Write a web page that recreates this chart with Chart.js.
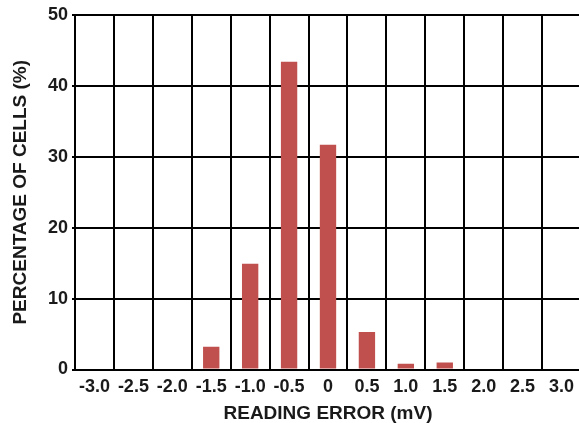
<!DOCTYPE html>
<html>
<head>
<meta charset="utf-8">
<script src="https://cdn.jsdelivr.net/npm/chart.js@4"></script>
<style>
  html, body { margin: 0; padding: 0; background: #fff; overflow: hidden; }
  #wrap { width: 579px; height: 423px; overflow: hidden; }
</style>
</head>
<body>
<div id="wrap"><canvas id="myChart" width="582" height="430"></canvas></div>
<script>
// categories on the x axis (reading error, mV)
const errorLabels = ['-3.0', '-2.5', '-2.0', '-1.5', '-1.0', '-0.5', '0', '0.5', '1.0', '1.5', '2.0', '2.5', '3.0'];
// percentage of cells for each bin
const cellPercent = [0, 0, 0, 3.2, 14.9, 43.4, 31.7, 5.3, 0.8, 1.0, 0, 0, 0];
const yTicks = [0, 10, 20, 30, 40, 50];

const BAR_RED = '#C0504D';
const INK = '#1a1a1a';
const tickFont = { family: 'Liberation Sans, Arial, sans-serif', size: 18, weight: 'bold' };
const titleFont = { family: 'Liberation Sans, Arial, sans-serif', size: 19, weight: 'bold' };

const data = {
  labels: errorLabels,
  datasets: [{
    data: cellPercent,
    backgroundColor: BAR_RED,
    borderWidth: 0,
    categoryPercentage: 1.0,
    barPercentage: 0.42
  }]
};

const config = {
  type: 'bar',
  data: data,
  options: {
    responsive: false,
    animation: false,
    layout: { padding: { top: 15, right: 1, left: 0, bottom: 0 } },
    plugins: {
      legend: { display: false },
      tooltip: { enabled: false }
    },
    scales: {
      x: {
        offset: true,
        grid: { color: '#000', lineWidth: 2, offset: true, drawTicks: false },
        border: { color: '#000', width: 2 },
        ticks: { color: INK, font: tickFont, padding: 7, maxRotation: 0, autoSkip: false },
        title: { display: true, text: 'READING ERROR (mV)', color: INK, font: titleFont, padding: { top: 4, bottom: 5 } },
        afterFit: function(scale) { scale.height = 60.5; }
      },
      y: {
        min: 0,
        max: 50,
        afterBuildTicks: function(scale) { scale.ticks = yTicks.map(v => ({ value: v })); },
        grid: { color: '#000', lineWidth: 2, drawTicks: true, tickLength: 3 },
        border: { color: '#000', width: 2 },
        ticks: { color: INK, font: tickFont, padding: 4 },
        title: { display: true, text: 'PERCENTAGE OF CELLS (%)', color: INK, font: titleFont, padding: { top: 9, bottom: 10 } },
        afterFit: function(scale) { scale.width = 75; }
      }
    }
  }
};

const myChart = new Chart(document.getElementById('myChart'), config);
</script>
</body>
</html>
